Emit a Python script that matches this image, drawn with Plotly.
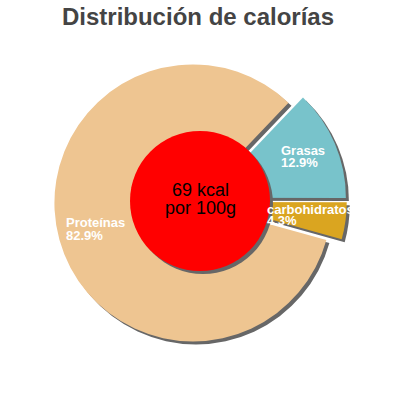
import plotly.graph_objects as go

# data
labels = ["Proteínas", "Grasas", "carbohidratos"]
values = [82.9, 12.9, 4.3]
colors = ["#EEC591", "#78C3CB", "#DAA520"]
pulls = [0.053, 0.058, 0.06]
kcal_text = ["69 kcal", "por 100g"]
title_text = "Distribución de calorías"

W, H = 400, 400
FONT = "Liberation Sans, Arial, sans-serif"


def px(x):
    return x / W


def py(y):
    return 1 - y / H


# pie geometry (pixels)
cx, cy, R = 200, 201, 138.5
half = R * (1 + max(pulls))
shadow = 3

fig = go.Figure()

# shadow copy first
fig.add_trace(go.Pie(
    labels=labels, values=values, sort=False, direction="clockwise",
    rotation=105.5, pull=pulls, textinfo="none", hoverinfo="skip",
    marker=dict(colors=["#676767"] * 3, line=dict(width=0)),
    domain=dict(x=[px(cx - half + shadow), px(cx + half + shadow)],
                y=[py(cy + half + shadow), py(cy - half + shadow)]),
    showlegend=False,
))

fig.add_trace(go.Pie(
    labels=labels, values=values, sort=False, direction="clockwise",
    rotation=105.5, pull=pulls, textinfo="none",
    marker=dict(colors=colors, line=dict(width=0)),
    domain=dict(x=[px(cx - half), px(cx + half)],
                y=[py(cy + half), py(cy - half)]),
    showlegend=False,
))

# red centre disc + its shadow
rc = 70
shapes = [
    dict(type="circle", xref="paper", yref="paper", layer="above",
         x0=px(cx - rc + shadow), x1=px(cx + rc + shadow),
         y0=py(cy + rc + shadow), y1=py(cy - rc + shadow),
         fillcolor="#676767", line=dict(width=0)),
    dict(type="circle", xref="paper", yref="paper", layer="above",
         x0=px(cx - rc), x1=px(cx + rc),
         y0=py(cy + rc), y1=py(cy - rc),
         fillcolor="#FF0000", line=dict(width=0)),
]

# slice labels (name line, percent line)
label_pos = {
    "Proteínas": (64, 222, 235.5),
    "Grasas": (279, 150.5, 162.7),
    "carbohidratos": (265, 209, 220),
}
annotations = []
for lab, val in zip(labels, values):
    x, y1, y2 = label_pos[lab]
    for txt, yy in ((lab, y1), (f"{val}%", y2)):
        annotations.append(dict(
            text=txt, x=px(x), y=py(yy), xref="paper", yref="paper",
            xanchor="left", yanchor="middle", showarrow=False,
            font=dict(family=FONT, size=13, color="white", weight="bold"),
        ))

for txt, yy in zip(kcal_text, (189.5, 208)):
    annotations.append(dict(
        text=txt, x=px(200), y=py(yy), xref="paper", yref="paper",
        xanchor="center", yanchor="middle", showarrow=False,
        font=dict(family=FONT, size=18, color="black"),
    ))

fig.update_layout(
    width=W, height=H,
    margin=dict(l=0, r=0, t=0, b=0),
    paper_bgcolor="white", plot_bgcolor="white",
    title=dict(text=title_text, x=0.495, xanchor="center",
               yref="container", y=0.9795, yanchor="top",
               font=dict(family=FONT, size=24, color="#444444", weight="bold")),
    shapes=shapes,
    annotations=annotations,
)

# drop the browser's default body margin so the figure sits at the page corner
fig.write_html("out.html", config={"displayModeBar": False},
               post_script="document.body.style.margin='0';")
